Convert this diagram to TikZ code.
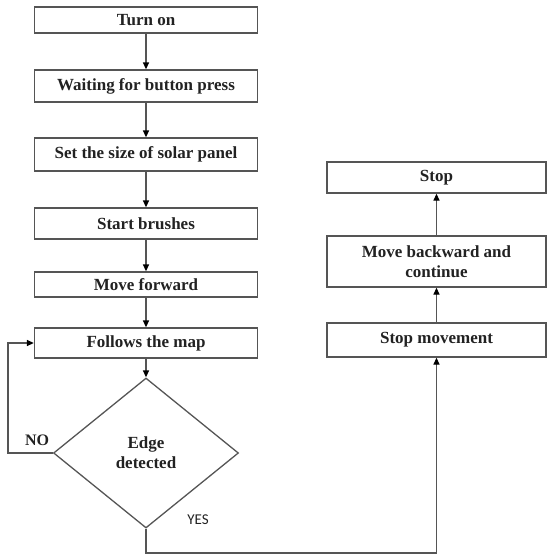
\documentclass[tikz,border=0pt]{standalone}
\usepackage{fontspec}
\setmainfont{Liberation Serif}
\newfontfamily\yesfont{Carlito}
\usetikzlibrary{shapes.geometric,arrows.meta}
\definecolor{linec}{HTML}{555555}
\definecolor{txtc}{HTML}{222222}
\begin{document}
\begin{tikzpicture}[x=1pt,y=-1pt,
  box/.style={draw=linec,line width=1.3pt,rectangle,inner sep=0pt,align=center,
    text=txtc,font=\bfseries\fontsize{17}{20}\selectfont},
  lbox/.style={box,minimum width=223pt},
  rbox/.style={box,minimum width=219pt},
  dec/.style={draw=linec,line width=1.3pt,diamond,inner sep=0pt,aspect=1.23,
    minimum width=185pt,minimum height=150pt,align=center,text=txtc,
    font=\bfseries\fontsize{17}{20}\selectfont},
  conn/.style={draw=linec,line width=1.3pt},
  arr/.style={conn,-{Triangle[length=7pt,width=6pt,color=black]}}]
\useasboundingbox (0,0) rectangle (547,558);
\node[lbox,minimum height=26pt] (turnon) at (146,20) {Turn on};
\node[lbox,minimum height=32pt] (wait) at (146,86) {Waiting for button press};
\node[lbox,minimum height=33pt] (size) at (146,154.5) {Set the size of solar panel};
\node[lbox,minimum height=31pt] (start) at (146,223.5) {Start brushes};
\node[lbox,minimum height=25pt] (fwd) at (146,284.5) {Move forward};
\node[lbox,minimum height=30pt] (follow) at (146,343) {Follows the map};
\node[dec] (edge) at (146,453) {Edge\\detected};
\node[rbox,minimum height=31pt] (stop) at (436.5,177.5) {Stop};
\node[rbox,minimum height=51pt] (back) at (436.5,261.5) {Move backward and\\continue};
\node[rbox,minimum height=34pt] (stopm) at (436.5,340) {Stop movement};
\node[font=\bfseries\fontsize{16}{18}\selectfont,text=txtc] (no) at (37,440) {NO};
\node[font=\yesfont\fontsize{15}{17}\selectfont,text=txtc] (yes) at (198,520) {YES};
\coordinate (nocorner) at (8,453);
\coordinate (yescorner) at (146,553);
\draw[arr] (turnon) -- (wait);
\draw[arr] (wait) -- (size);
\draw[arr] (size) -- (start);
\draw[arr] (start) -- (fwd);
\draw[arr] (fwd) -- (follow);
\draw[arr] (follow) -- (edge);
\draw[arr] (edge.west) -- (nocorner) |- (follow.west);
\draw[arr] (edge.south) -- (yescorner) -| (stopm.south);
\draw[arr] (stopm) -- (back);
\draw[arr] (back) -- (stop);
\end{tikzpicture}
\end{document}
